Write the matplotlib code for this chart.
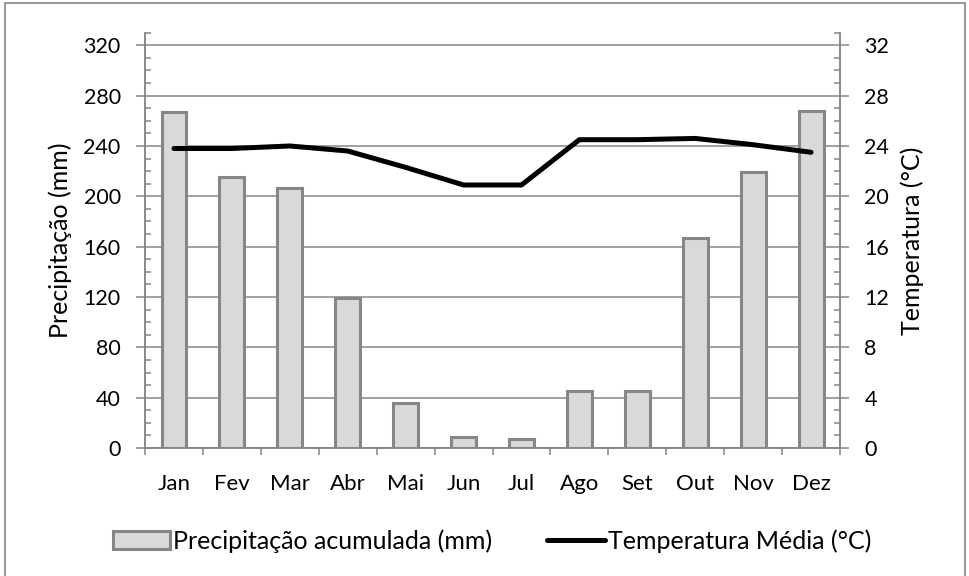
import numpy as np
import matplotlib
matplotlib.use('Agg')
import matplotlib.pyplot as plt
from matplotlib.patches import Rectangle
from matplotlib.ticker import MultipleLocator, FixedLocator

plt.rcParams['font.family'] = ['Lato', 'DejaVu Sans']

meses = ['Jan', 'Fev', 'Mar', 'Abr', 'Mai', 'Jun', 'Jul', 'Ago', 'Set', 'Out', 'Nov', 'Dez']
precip = [267, 215, 207, 119, 36, 9, 7, 45, 45, 167, 219, 268]
temp = [23.8, 23.8, 24.0, 23.6, 22.3, 20.9, 20.9, 24.5, 24.5, 24.6, 24.1, 23.5]

GRAY = '#868686'
fs_num = 15.5
fs_txt = 18

fig = plt.figure(figsize=(9.7, 5.76), dpi=100)
ax = fig.add_axes([0.1495, 0.2222, 0.7165, 0.721])
ax2 = ax.twinx()

x = np.arange(len(meses))
bars = ax.bar(x, precip, width=0.43, color='#d9d9d9', edgecolor=GRAY,
              linewidth=2.2, label='Precipitação acumulada (mm)', zorder=2)
line, = ax2.plot(x, temp, color='black', linewidth=3.6, solid_capstyle='round',
                 solid_joinstyle='round', label='Temperatura Média (°C)')

ax.set_xlim(-0.5, 11.5)
ax.set_ylim(0, 330)
ax2.set_ylim(0, 33)

ax.yaxis.set_major_locator(FixedLocator(np.arange(0, 321, 40)))
ax.yaxis.set_minor_locator(MultipleLocator(10))
ax2.yaxis.set_major_locator(FixedLocator(np.arange(0, 33, 4)))
ax2.yaxis.set_minor_locator(MultipleLocator(1))

ax.set_xticks(x)
ax.set_xticklabels(meses)
ax.xaxis.set_minor_locator(FixedLocator(np.arange(-0.5, 12, 1)))

ax.grid(axis='y', which='major', color=GRAY, linewidth=1.1, zorder=0)
ax.set_axisbelow(True)

for a in (ax, ax2):
    for s in a.spines.values():
        s.set_color(GRAY)
        s.set_linewidth(1.1)
    a.spines['top'].set_visible(False)

ax.tick_params(axis='y', which='major', direction='out', length=6.5, width=1.1,
               color=GRAY, labelsize=fs_num, pad=11)
ax.tick_params(axis='y', which='minor', direction='in', length=4.3, width=1.1, color=GRAY)
ax2.tick_params(axis='y', which='major', direction='out', length=6.5, width=1.1,
                color=GRAY, labelsize=fs_num, pad=11)
ax2.tick_params(axis='y', which='minor', direction='in', length=4.3, width=1.1, color=GRAY)
ax.tick_params(axis='x', which='major', length=0, labelsize=16, pad=19)
ax.tick_params(axis='x', which='minor', direction='out', length=5, width=1.1, color=GRAY)

ax.set_ylabel('Precipitação (mm)', fontsize=fs_txt, labelpad=8)
ax2.set_ylabel('Temperatura (°C)', fontsize=fs_txt, labelpad=8)

fig.legend(handles=[bars, line], loc='center', bbox_to_anchor=(0.507, 0.061),
           ncol=2, frameon=False, fontsize=fs_txt, handlelength=2.3,
           handletextpad=0.12, columnspacing=2.2)

fig.patches.append(Rectangle((5 / 970, -0.02), 960 / 970, 1.02 - 3 / 576,
                             transform=fig.transFigure, fill=False,
                             edgecolor=GRAY, linewidth=1.2))

fig.savefig('out.png', dpi=100)
